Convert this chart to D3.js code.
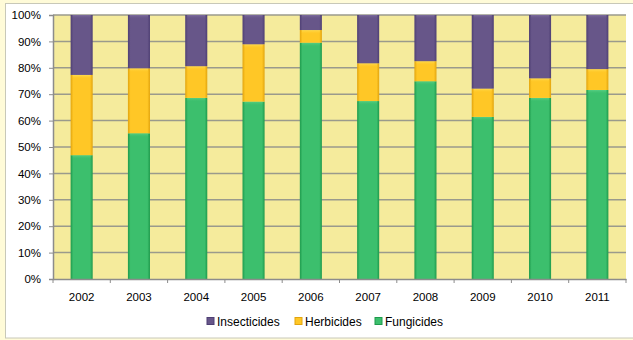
<!DOCTYPE html>
<html><head><meta charset="utf-8">
<script src="https://cdn.jsdelivr.net/npm/d3@7"></script>
<style>
html,body{margin:0;padding:0;background:#fffbd8;}
svg{display:block;font-family:"Liberation Sans",Arial,sans-serif;}
</style></head>
<body><svg id="c" width="633" height="340"></svg>
<script>
const years = ["2002","2003","2004","2005","2006","2007","2008","2009","2010","2011"];
const fungicides   = [46.9, 55.2, 68.6, 67.2, 89.5, 67.4, 74.9, 61.4, 68.6, 71.6];
const herbicides   = [30.4, 24.6, 12.0, 21.7, 4.8, 14.3, 7.6, 10.7, 7.4, 7.9];
const insecticides = [22.7, 20.2, 19.4, 11.1, 5.7, 18.3, 17.5, 27.9, 24.0, 20.5];
const yTicks = [0,10,20,30,40,50,60,70,80,90,100];
const seriesNames = ["Fungicides","Herbicides","Insecticides"];
const legendOrder = ["Insecticides","Herbicides","Fungicides"];
const colors = {Fungicides:["#1e9a4c","#3cbf6d","#58cf84"], Herbicides:["#e2a40e","#ffc726","#ffdc50"], Insecticides:["#4e3f74","#675689","#7d6c9e"]};

const rows = years.map((y,i)=>({year:y, Fungicides:fungicides[i], Herbicides:herbicides[i], Insecticides:insecticides[i]}));
const stack = d3.stack().keys(seriesNames)(rows);

const svg = d3.select("#c");
svg.append("rect").attr("x",5.5).attr("y",3.5).attr("width",640).attr("height",334.5)
  .attr("fill","#ffffff").attr("stroke","#c8c8b8").attr("stroke-width",1);

const m = {l:53, r:626, t:15, b:279};
const x = d3.scaleBand().domain(years).range([m.l,m.r]).paddingInner(0.615).paddingOuter(0.3075);
const y = d3.scaleLinear().domain([0,100]).range([m.b,m.t]);

svg.append("rect").attr("x",m.l).attr("y",m.t).attr("width",m.r-m.l).attr("height",m.b-m.t).attr("fill","#f5eb9c");

const defs = svg.append("defs");
seriesNames.forEach(k=>{
  const g = defs.append("linearGradient").attr("id","g"+k).attr("x1","0").attr("x2","1").attr("y1","0").attr("y2","0");
  const c = colors[k];
  g.append("stop").attr("offset","0").attr("stop-color",c[0]);
  g.append("stop").attr("offset","0.12").attr("stop-color",c[1]);
  g.append("stop").attr("offset","0.88").attr("stop-color",c[1]);
  g.append("stop").attr("offset","1").attr("stop-color",c[0]);
  const h = defs.append("linearGradient").attr("id","h"+k).attr("x1","0").attr("x2","0").attr("y1","0").attr("y2","1");
  h.append("stop").attr("offset","0").attr("stop-color",c[2]).attr("stop-opacity",1);
  h.append("stop").attr("offset","1").attr("stop-color",c[1]).attr("stop-opacity",0);
});

svg.append("g").selectAll("line").data(yTicks.filter(t=>t>0)).join("line")
  .attr("x1",m.l).attr("x2",m.r).attr("y1",d=>y(d)).attr("y2",d=>y(d))
  .attr("stroke","#9a9a8c").attr("stroke-width",1.5);

const gBars = svg.append("g");
stack.forEach(s=>{
  const k = s.key;
  gBars.append("g").selectAll("rect").data(s).join("rect")
    .attr("x",d=>x(d.data.year)).attr("width",x.bandwidth())
    .attr("y",d=>y(d[1])).attr("height",d=>y(d[0])-y(d[1]))
    .attr("fill","url(#g"+k+")");
  gBars.append("g").selectAll("rect").data(s).join("rect")
    .attr("x",d=>x(d.data.year)+2).attr("width",x.bandwidth()-4)
    .attr("y",d=>y(d[1])).attr("height",4)
    .attr("fill","url(#h"+k+")");
});

const ya = svg.append("g").attr("transform",`translate(${m.l},0)`)
  .call(d3.axisLeft(y).tickValues(yTicks).tickFormat(d=>d+"%").tickSize(4).tickPadding(8));
ya.select(".domain").attr("stroke","#8c8c8c").attr("stroke-width",1.5);
ya.selectAll(".tick line").attr("stroke","#8c8c8c");
ya.selectAll("text").attr("font-size","11.5px").attr("fill","#000").attr("font-family","Liberation Sans, Arial, sans-serif");

const xa = svg.append("g").attr("transform",`translate(0,${m.b})`)
  .call(d3.axisBottom(x).tickSize(0).tickPadding(14));
xa.select(".domain").attr("stroke","#8c8c8c").attr("stroke-width",1.5);
xa.selectAll("text").attr("font-size","11.5px").attr("fill","#000").attr("font-family","Liberation Sans, Arial, sans-serif");
const step = x.step();
svg.append("g").selectAll("line").data(d3.range(years.length+1)).join("line")
  .attr("x1",i=>m.l+i*step).attr("x2",i=>m.l+i*step).attr("y1",m.b).attr("y2",m.b+4)
  .attr("stroke","#8c8c8c");

const legX = {Insecticides:207, Herbicides:295, Fungicides:375};
const lg = svg.append("g");
legendOrder.forEach(k=>{
  lg.append("rect").attr("x",legX[k]).attr("y",317.5).attr("width",7).attr("height",7)
    .attr("fill",colors[k][1]).attr("stroke",colors[k][0]).attr("stroke-width",1);
  lg.append("text").attr("x",legX[k]+10).attr("y",326).attr("font-size","12px").text(k);
});
</script></body></html>
